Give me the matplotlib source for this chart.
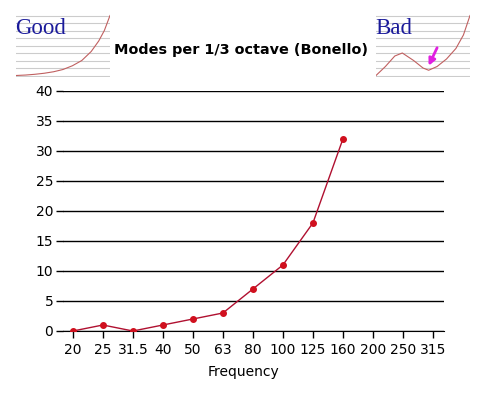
import matplotlib
matplotlib.use('Agg')
import matplotlib.pyplot as plt
import numpy as np

# main chart data
freqs = ['20', '25', '31.5', '40', '50', '63', '80', '100', '125', '160', '200', '250', '315']
modes = [0, 1, 0, 1, 2, 3, 7, 11, 18, 32]

# thumbnail sketches (rough shapes read off the icons)
good_x = [0, 10, 20, 30, 40, 50, 60, 70, 80, 88, 94, 100]
good_y = [0, 0.3, 0.8, 1.5, 2.5, 4, 6.5, 10, 16, 23, 30, 40]
bad_x = [0, 10, 20, 28, 40, 50, 56, 65, 75, 85, 93, 100]
bad_y = [0, 6, 13, 15, 10, 5, 3.5, 6, 11, 18, 27, 40]
sketch_rows = np.arange(0, 41, 5)

plt.rcParams['font.family'] = ['DejaVu Sans']

fig = plt.figure(figsize=(4.86, 3.96), dpi=100)
ax = fig.add_axes([63/486, 1 - 331/396, (444 - 63)/486, (331 - 91)/396])

x = np.arange(len(modes))
ax.plot(x, modes, color='#b01030', lw=1, marker='o', ms=4,
        mfc='#d0101e', mec='#d0101e', zorder=3)

ax.set_xlim(-0.33, len(freqs) - 1 + 0.37)
ax.set_ylim(0, 40)
ax.set_xticks(np.arange(len(freqs)))
ax.set_xticklabels(freqs)
ax.set_yticks(np.arange(0, 41, 5))
ax.grid(axis='y', color='black', lw=1)
ax.set_axisbelow(True)
for s in ['left', 'right', 'top']:
    ax.spines[s].set_visible(False)
ax.spines['bottom'].set_color('black')
ax.tick_params(axis='both', length=5, width=1, color='black', labelsize=10, pad=2)
ax.tick_params(axis='x', pad=4)

fig.text(243/486, 1 - 372/396, 'Frequency', ha='center', va='center', fontsize=10)
fig.text(241/486, 1 - 50/396, 'Modes per 1/3 octave (Bonello)', ha='center', va='center',
         fontsize=10.4, fontweight='bold')

# "Good" and "Bad" thumbnails
def thumb(rect, xs, ys, label):
    a = fig.add_axes(rect)
    for r in sketch_rows:
        a.axhline(r, color='#cccccc', lw=0.8, zorder=1)
    a.plot(xs, ys, color='#c06060', lw=0.8, zorder=2)
    a.set_xlim(0, 100)
    a.set_ylim(-1, 41)
    a.axis('off')
    a.text(-1, 31.5, label, color='#1a1a9a', fontsize=16.5, family='Liberation Serif',
           va='center', ha='left', zorder=3)
    return a

thumb([16/486, 1 - 77/396, 94/486, 63/396], good_x, good_y, 'Good')
b = thumb([376/486, 1 - 77/396, 94/486, 63/396], bad_x, bad_y, 'Bad')
b.annotate('', xy=(56, 6.5), xytext=(65, 18.5),
           arrowprops=dict(arrowstyle='-|>', color='#e020e0', lw=2, mutation_scale=10,
                           shrinkA=0, shrinkB=0))

fig.savefig('out.png', dpi=100)
